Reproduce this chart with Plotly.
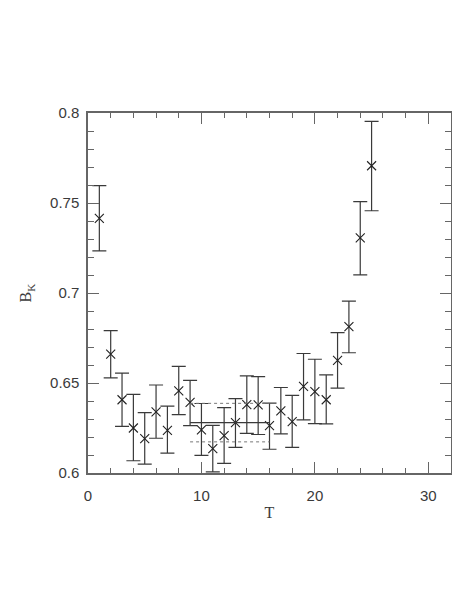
"""B_K plateau plot versus time slice T."""

import plotly.graph_objects as go

T = [1, 2, 3, 4, 5, 6, 7, 8, 9, 10, 11, 12, 13, 14, 15, 16, 17, 18, 19, 20, 21, 22, 23, 24, 25]
BK = [0.7415, 0.666, 0.6407, 0.625, 0.6191, 0.634, 0.6237, 0.6456, 0.6392, 0.624,
      0.6136, 0.6208, 0.628, 0.638, 0.6379, 0.6263, 0.6345, 0.6286, 0.6481, 0.6452,
      0.6407, 0.6626, 0.6813, 0.7306, 0.7707]
ERR_UP = [0.0182, 0.0131, 0.0148, 0.0187, 0.0144, 0.0149, 0.0134, 0.0136, 0.0123, 0.0146,
          0.0129, 0.0155, 0.0133, 0.016, 0.0156, 0.0125, 0.013, 0.0145, 0.0183, 0.018,
          0.0138, 0.0154, 0.0142, 0.0202, 0.0246]
ERR_DOWN = [0.0181, 0.0132, 0.0148, 0.0182, 0.0142, 0.0147, 0.0127, 0.0132, 0.0129, 0.0142,
            0.013, 0.0155, 0.0138, 0.016, 0.0165, 0.0131, 0.0128, 0.0144, 0.0186, 0.0178,
            0.0134, 0.0155, 0.0145, 0.0205, 0.025]

FIT_T = [9, 16]
FIT_VALUE = 0.628
FIT_ERR = 0.0107

INK = "#3a3a3a"
FONT = "Liberation Sans"
SERIF = "Liberation Serif"

fig = go.Figure()

fig.add_trace(
    go.Scatter(
        x=T,
        y=BK,
        mode="markers",
        marker=dict(symbol="x-thin", size=9, line=dict(width=1.1, color="#222")),
        error_y=dict(
            type="data",
            symmetric=False,
            array=ERR_UP,
            arrayminus=ERR_DOWN,
            color=INK,
            thickness=1.2,
            width=7,
        ),
        showlegend=False,
    )
)

fig.add_trace(
    go.Scatter(
        x=FIT_T,
        y=[FIT_VALUE] * 2,
        mode="lines",
        line=dict(color=INK, width=1.2),
        showlegend=False,
    )
)
for sign in (1, -1):
    fig.add_trace(
        go.Scatter(
            x=FIT_T,
            y=[FIT_VALUE + sign * FIT_ERR] * 2,
            mode="lines",
            line=dict(color="#777", width=1, dash="dot"),
            showlegend=False,
        )
    )

axis_common = dict(
    showline=True,
    linecolor="#666",
    linewidth=1.5,
    mirror="allticks",
    ticks="inside",
    ticklen=11,
    tickwidth=1.3,
    tickcolor="#666",
    showgrid=False,
    zeroline=False,
    automargin=False,
    tickfont=dict(family=FONT, size=15, color=INK),
)

# the page body keeps its default 8px margin, so the figure sits at (8, 8)
fig.update_layout(
    width=452,
    height=587,
    margin=dict(l=80, r=9, t=105, b=122),
    paper_bgcolor="white",
    plot_bgcolor="white",
    xaxis=dict(
        range=[0, 32],
        tick0=0,
        dtick=10,
        minor=dict(dtick=2, ticks="inside", ticklen=5, tickwidth=1.2, tickcolor="#666"),
        ticklabelstandoff=8,
        title=dict(text="T", font=dict(family=SERIF, size=16, color=INK), standoff=4),
        **axis_common,
    ),
    yaxis=dict(
        range=[0.6, 0.8],
        tick0=0.6,
        dtick=0.05,
        tickformat="~g",
        minor=dict(dtick=0.01, ticks="inside", ticklen=6, tickwidth=1.2, tickcolor="#666"),
        ticklabelstandoff=4,
        title=dict(text="B<sub>K</sub>", font=dict(family=SERIF, size=16, color=INK), standoff=14),
        **axis_common,
    ),
)

fig.write_html("out.html")
